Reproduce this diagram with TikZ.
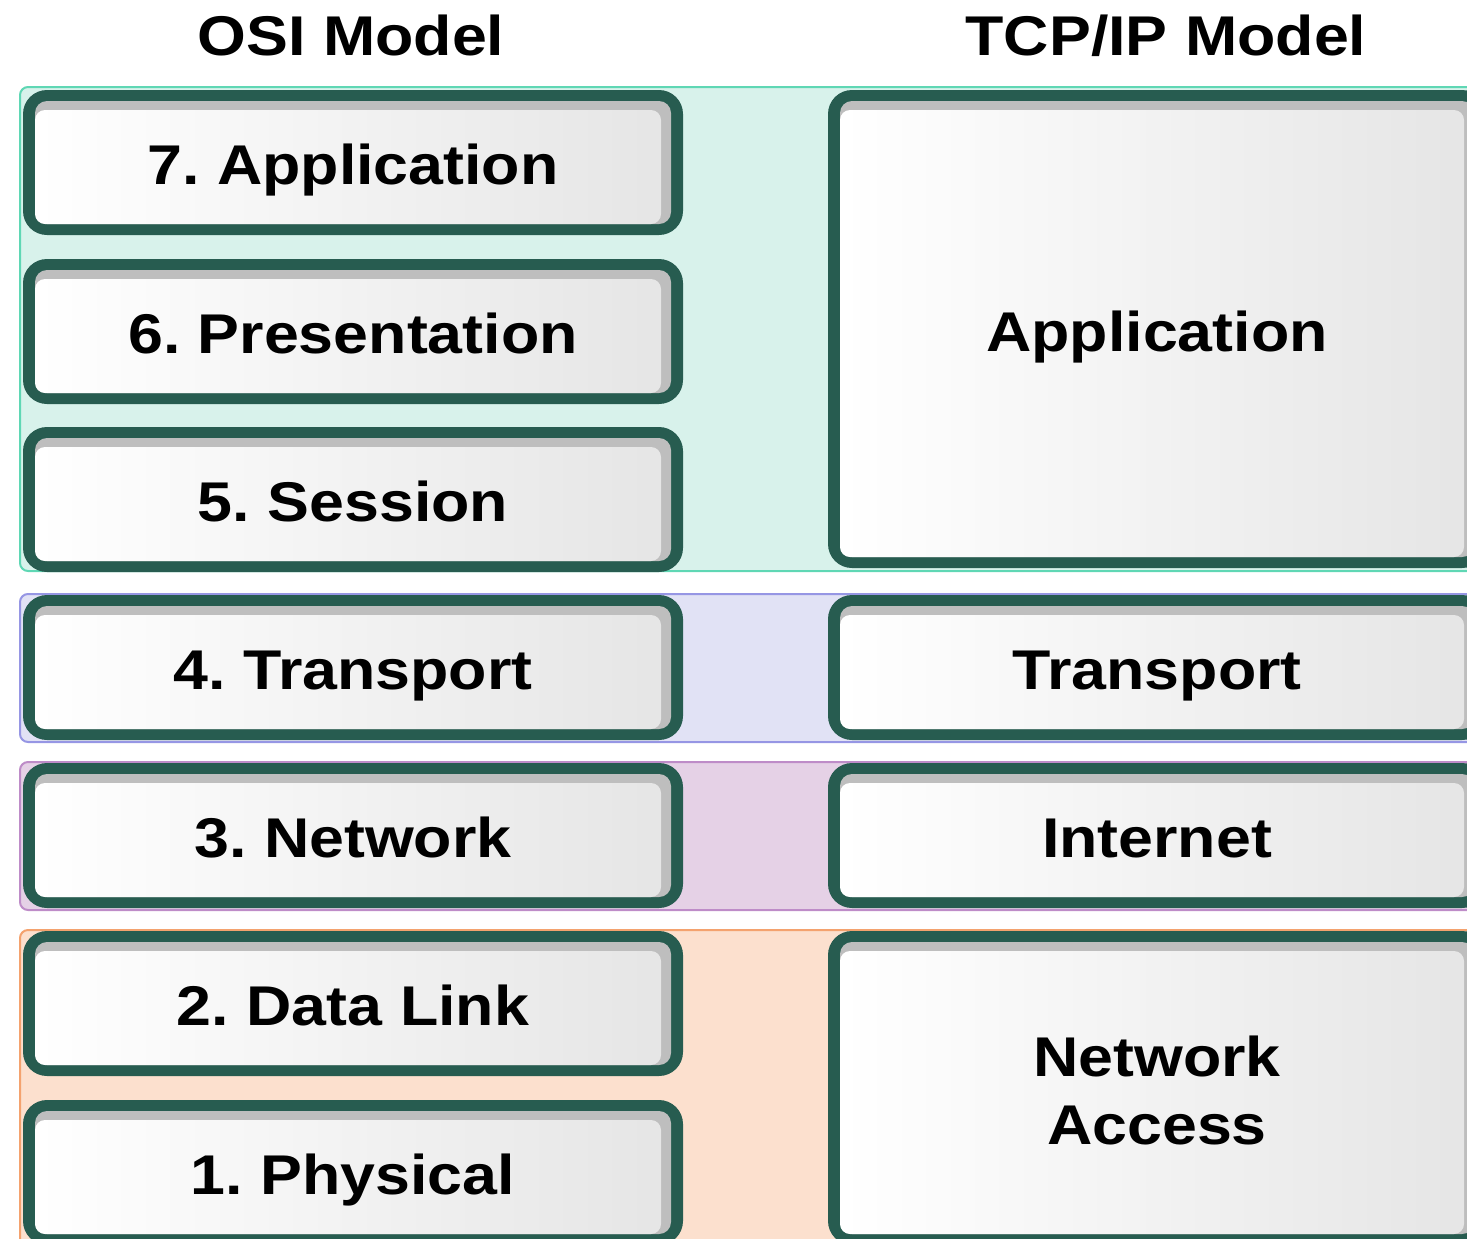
\documentclass[tikz,border=0pt]{standalone}
\usepackage{fontspec}
\setmainfont{Liberation Sans}
\definecolor{boxline}{RGB}{39,92,80}
\definecolor{shadowgray}{RGB}{190,190,190}
\definecolor{tealfill}{RGB}{216,242,235}
\definecolor{tealline}{RGB}{95,215,180}
\definecolor{bluefill}{RGB}{225,226,245}
\definecolor{blueline}{RGB}{150,150,228}
\definecolor{purplefill}{RGB}{229,209,230}
\definecolor{purpleline}{RGB}{190,140,200}
\definecolor{orangefill}{RGB}{252,224,206}
\definecolor{orangeline}{RGB}{244,162,110}
\tikzset{
  band/.style={rounded corners=4pt, line width=1pt},
  lbl/.style={font=\frenchspacing\fontsize{28}{34}\selectfont\bfseries, xscale=1.12, inner sep=0pt, text=black, align=center},
  onebase/.style={anchor=base, yshift=-11pt},
}
% #1 name, #2 x1, #3 y1, #4 x2, #5 y2, #6 node options, #7 text
\newcommand\layerbox[7]{%
  \fill[boxline, rounded corners=12pt] (#2,#3) rectangle (#4,#5);
  \fill[shadowgray, rounded corners=6pt] ({#2+12},{#3+11}) rectangle ({#4-12},{#5-11});
  \shade[left color=white, right color=gray!20, rounded corners=5pt] ({#2+12},{#3+20}) rectangle ({#4-22},{#5-11});
  \node[lbl, #6] (#1) at ({(#2+#4)/2},{(#3+#5)/2}) {#7};
}
\begin{document}
\begin{tikzpicture}[x=0.5pt,y=-0.5pt]
\useasboundingbox (0,0) rectangle (1467,1238);
\clip (0,0) rectangle (1467,1238);
% headers
\node[lbl, anchor=base] (osihead) at (351,55) {OSI Model};
\node[lbl, anchor=base] (tcphead) at (1166,55) {TCP/IP Model};
% bands
\draw[band, fill=tealfill, draw=tealline] (20,87) rectangle (1540,571);
\draw[band, fill=bluefill, draw=blueline] (20,594) rectangle (1540,742);
\draw[band, fill=purplefill, draw=purpleline] (20,762) rectangle (1540,910);
\draw[band, fill=orangefill, draw=orangeline] (20,930) rectangle (1540,1300);
% OSI layers
\layerbox{osi7}{23}{90}{683}{235}{onebase}{7. Application}
\layerbox{osi6}{23}{259}{683}{404}{onebase}{6. Presentation}
\layerbox{osi5}{23}{427}{683}{572}{onebase}{5. Session}
\layerbox{osi4}{23}{595}{683}{740}{onebase}{4. Transport}
\layerbox{osi3}{23}{763}{683}{908}{onebase}{3. Network}
\layerbox{osi2}{23}{931}{683}{1076}{onebase}{2. Data Link}
\layerbox{osi1}{23}{1100}{683}{1245}{onebase}{1. Physical}
% TCP/IP layers
\layerbox{tcpapp}{828}{90}{1486}{568}{onebase}{Application}
\layerbox{tcptrans}{828}{595}{1486}{740}{onebase}{Transport}
\layerbox{tcpinet}{828}{763}{1486}{908}{onebase}{Internet}
\layerbox{tcpnet}{828}{931}{1486}{1245}{anchor=center, yshift=-1pt}{Network\\Access}
\end{tikzpicture}
\end{document}
